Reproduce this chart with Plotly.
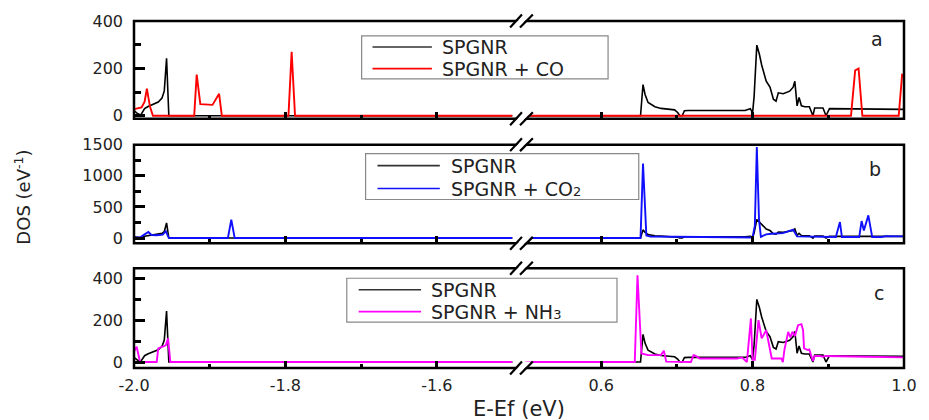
import plotly.graph_objects as go

# ---------------- data (energy in eV, DOS in 1/eV) ----------------
energy_spgnr = [-2.000, -1.995, -1.991, -1.986, -1.982, -1.975, -1.968, -1.963, -1.960,
                -1.957, -1.954, -1.500,
                0.500, 0.652, 0.6553, 0.658, 0.662, 0.667, 0.671, 0.679, 0.690, 0.697,
                0.701, 0.704, 0.707, 0.710, 0.715, 0.790, 0.797, 0.800, 0.802, 0.8056,
                0.809, 0.812, 0.818, 0.823, 0.8275, 0.831, 0.834, 0.8405, 0.849, 0.8536,
                0.8558, 0.8588, 0.8614, 0.8645, 0.869, 0.875, 0.8797, 0.882, 0.893,
                0.897, 0.9016, 0.950, 1.000]
dos_spgnr = [22, 8, 3, 30, 38, 48, 58, 75, 105,
             243, 0, 0,
             0, 0, 132, 90, 56, 45, 38, 31, 27, 25,
             14, 0, 0, 21, 22, 22, 30, 12, 80, 299,
             260, 215, 146, 121, 70, 62, 97, 93, 104, 121,
             146, 42, 77, 42, 38, 38, 0, 33, 33,
             0, 30, 28, 27]

energy_co = [-2.000, -1.990, -1.986, -1.983, -1.979, -1.975, -1.9205, -1.9172, -1.9124,
             -1.8963, -1.8876, -1.884, -1.796, -1.7918, -1.7873, -1.500,
             0.500, 0.930, 0.9355, 0.940, 0.945, 0.993, 0.9975, 1.000]
dos_co = [28, 35, 60, 115, 40, 0, 0, 174, 49,
          46, 93, 0, 0, 271, 0, 0,
          0, 0, 192, 200, 0, 0, 174, 170]

energy_co2 = [-2.000, -1.992, -1.986, -1.981, -1.977, -1.970, -1.962, -1.958, -1.954,
              -1.876, -1.8715, -1.867, -1.500,
              0.500, 0.652, 0.6553, 0.6597, 0.665, 0.700, 0.800, 0.803, 0.8056, 0.8085,
              0.811, 0.818, 0.825, 0.840, 0.8536, 0.8588, 0.910, 0.9154, 0.918, 0.9408,
              0.944, 0.947, 0.9529, 0.958, 0.970, 0.975, 1.000]
dos_co2 = [8, 10, 60, 97, 50, 45, 55, 110, 0,
           0, 295, 0, 0,
           0, 0, 1197, 40, 25, 20, 10, 200, 1465, 300,
           20, 59, 70, 80, 134, 27, 16, 258, 16, 16,
           274, 123, 365, 16, 16, 30, 27]

energy_nh3 = [-2.000, -1.9965, -1.992, -1.970, -1.968, -1.962, -1.958, -1.955, -1.952, -1.500,
              0.500, 0.6444, 0.648, 0.6532, 0.662, 0.679, 0.6828, 0.686, 0.7186, 0.722,
              0.725, 0.730, 0.7795, 0.786, 0.7925, 0.7978, 0.800, 0.803, 0.8078, 0.812,
              0.818, 0.8215, 0.8253, 0.838, 0.840, 0.842, 0.847, 0.850, 0.8526, 0.856,
              0.8601, 0.8645, 0.8667, 0.868, 0.873, 0.8749, 0.8797, 0.882, 0.8885, 0.893,
              0.8967, 0.950, 1.000]
dos_nh3 = [50, 73, 0, 0, 65, 73, 80, 113, 0, 0,
           0, 0, 414, 41, 33, 33, 54, 2, 0, 33,
           29, 17, 17, 22, 0, 208, 10, 10, 200, 113,
           152, 89, 17, 17, 0, 57, 144, 117, 144, 124,
           176, 181, 152, 65, 57, 60, 5, 29, 29, 25,
           29, 25, 22]

left_tick_vals = [-2.0, -1.8, -1.6]
left_tick_text = ["-2.0", "-1.8", "-1.6"]
right_tick_vals = [0.6, 0.8, 1.0]
right_tick_text = ["0.6", "0.8", "1.0"]

panel_letters = ["a", "b", "c"]
SMALL = '<span style="font-size:13px">{}</span>'
adsorbate_names = ["SPGNR + CO",
                   "SPGNR + CO" + SMALL.format("2"),
                   "SPGNR + NH" + SMALL.format("3")]
adsorbate_colors = ["#ff0000", "#1010ff", "#ff00ff"]
y_ranges = [[-12.6, 401], [-85, 1502], [-28.6, 447.6]]
y_dticks = [200, 500, 200]
y_minor = [100, 250, 100]

LEFT_RANGE = [-2.0, -1.5]
RIGHT_RANGE = [0.5, 1.0]

# ---------------- layout geometry (pixels) ----------------
W, H = 929, 420
ML, MR, MT, MB = 134, 17, 20, 52
PW = W - ML - MR
PH = H - MT - MB


def px_x(p):
    return (p - ML) / PW


def px_y(p):
    return (H - MB - p) / PH


panel_px = [(20, 118), (144, 243), (268, 368)]  # (top, bottom)
gap_left_px, gap_right_px = 516.5, 529.5
break_center_px = 523.0

FONT = "DejaVu Sans"
TXT = "#222222"


def split(energy, dos):
    left = [(e, d) for e, d in zip(energy, dos) if e <= LEFT_RANGE[1]]
    right = [(e, d) for e, d in zip(energy, dos) if e >= RIGHT_RANGE[0]]
    return left, right


fig = go.Figure()

series = [(energy_co, dos_co), (energy_co2, dos_co2), (energy_nh3, dos_nh3)]

for i in range(3):
    xl = "x" if i == 0 else f"x{2 * i + 1}"
    xr = f"x{2 * i + 2}"
    yy = "y" if i == 0 else f"y{i + 1}"
    for (e, d), color, width in [((energy_spgnr, dos_spgnr), "#000000", 1.6),
                                 (series[i], adsorbate_colors[i], 1.9)]:
        left, right = split(e, d)
        for pts, xa in [(left, xl), (right, xr)]:
            fig.add_trace(go.Scatter(
                x=[p[0] for p in pts], y=[p[1] for p in pts],
                mode="lines", line=dict(color=color, width=width),
                xaxis=xa, yaxis=yy, showlegend=False, hoverinfo="skip"))

layout = dict(
    width=W, height=H,
    margin=dict(l=ML, r=MR, t=MT, b=MB),
    paper_bgcolor="white", plot_bgcolor="white",
    showlegend=False,
    font=dict(family=FONT, color=TXT, size=16),
)

axis_common = dict(showgrid=False, zeroline=False, showline=False)

for i in range(3):
    top, bot = panel_px[i]
    ydom = [px_y(bot), px_y(top)]
    xl_name = "xaxis" if i == 0 else f"xaxis{2 * i + 1}"
    xr_name = f"xaxis{2 * i + 2}"
    y_name = "yaxis" if i == 0 else f"yaxis{i + 1}"
    y_ref = "y" if i == 0 else f"y{i + 1}"
    xl_ref = "x" if i == 0 else f"x{2 * i + 1}"
    last = i == 2
    layout[xl_name] = dict(
        axis_common, domain=[0, px_x(gap_left_px)], range=LEFT_RANGE, anchor=y_ref,
        tickmode="array", tickvals=left_tick_vals, ticktext=left_tick_text,
        ticks="inside", ticklen=7, tickwidth=2.5, tickcolor="black",
        minor=dict(ticks="inside", ticklen=4, tickwidth=2.5, tickcolor="black",
                   tickvals=[-1.9, -1.7]),
        showticklabels=last, ticklabelstandoff=6,
        tickfont=dict(family=FONT, size=16, color=TXT))
    layout[xr_name] = dict(
        axis_common, domain=[px_x(gap_right_px), 1], range=RIGHT_RANGE, anchor=y_ref,
        tickmode="array", tickvals=right_tick_vals, ticktext=right_tick_text,
        ticks="inside", ticklen=7, tickwidth=2.5, tickcolor="black",
        minor=dict(ticks="inside", ticklen=4, tickwidth=2.5, tickcolor="black",
                   tickvals=[0.7, 0.9]),
        showticklabels=last, ticklabelstandoff=6,
        tickfont=dict(family=FONT, size=16, color=TXT))
    layout[y_name] = dict(
        axis_common, domain=ydom, range=y_ranges[i], anchor=xl_ref,
        dtick=y_dticks[i], tick0=0,
        ticks="inside", ticklen=11, tickwidth=2.5, tickcolor="black",
        minor=dict(ticks="inside", ticklen=7, tickwidth=2.5, tickcolor="black",
                   dtick=y_minor[i], tick0=0),
        ticklabelstandoff=10,
        tickfont=dict(family=FONT, size=16, color=TXT))

fig.update_layout(**layout)

shapes = []
annotations = []

# panel frames and axis-break marks
for i in range(3):
    top, bot = panel_px[i]
    shapes.append(dict(type="rect", xref="paper", yref="paper",
                       x0=0, x1=1, y0=px_y(bot), y1=px_y(top),
                       line=dict(color="black", width=2.5), fillcolor="rgba(0,0,0,0)",
                       layer="above"))
    for edge in (top, bot):
        h = 6.5
        s1 = (break_center_px - 9, break_center_px + 3)   # (bottom x, top x) of first slash
        s2 = (break_center_px + 1, break_center_px + 14)
        # white band between the slashes hides the axis line
        path = (f"M {px_x(s1[0] + 1.5)},{px_y(edge + h)} "
                f"L {px_x(s1[1] + 1.5)},{px_y(edge - h)} "
                f"L {px_x(s2[1] - 1.5)},{px_y(edge - h)} "
                f"L {px_x(s2[0] - 1.5)},{px_y(edge + h)} Z")
        shapes.append(dict(type="path", xref="paper", yref="paper", path=path,
                           fillcolor="white", line=dict(width=0), layer="above"))
        for s in (s1, s2):
            shapes.append(dict(type="line", xref="paper", yref="paper",
                               x0=px_x(s[0]), y0=px_y(edge + h),
                               x1=px_x(s[1]), y1=px_y(edge - h),
                               line=dict(color="black", width=2.2), layer="above"))

# legends: (box x0, x1, y0, y1, line x0, x1, text x, entry y1, entry y2)
legend_px = [(364, 613, 35, 78, 375, 435, 443, 46.0, 67.8),
             (368, 644, 153, 199, 380, 443, 452, 165.0, 188.0),
             (349, 622, 278, 322, 361, 424, 432, 289.5, 311.5)]
for i, (bx0, bx1, by0, by1, lx0, lx1, tx, ey1, ey2) in enumerate(legend_px):
    shapes.append(dict(type="rect", xref="paper", yref="paper",
                       x0=px_x(bx0), x1=px_x(bx1), y0=px_y(by1), y1=px_y(by0),
                       line=dict(color="#888888", width=1.2), fillcolor="white",
                       layer="above"))
    for ey, color, label in [(ey1, "#333333", "SPGNR"),
                             (ey2, adsorbate_colors[i], adsorbate_names[i])]:
        shapes.append(dict(type="line", xref="paper", yref="paper",
                           x0=px_x(lx0), x1=px_x(lx1), y0=px_y(ey), y1=px_y(ey),
                           line=dict(color=color, width=1.6), layer="above"))
        annotations.append(dict(xref="paper", yref="paper", x=px_x(tx), y=px_y(ey),
                                xanchor="left", yanchor="middle", showarrow=False,
                                text=label, font=dict(family=FONT, size=19, color=TXT)))

# panel letters
letter_px = [(885, 38), (883, 168), (887, 293)]
for (lx, ly), letter in zip(letter_px, panel_letters):
    annotations.append(dict(xref="paper", yref="paper", x=px_x(lx), y=px_y(ly),
                            xanchor="center", yanchor="middle", showarrow=False,
                            text=letter, font=dict(family=FONT, size=19, color=TXT)))

# axis titles
annotations.append(dict(xref="paper", yref="paper", x=px_x(523), y=px_y(409),
                        xanchor="center", yanchor="middle", showarrow=False,
                        text="E-Ef (eV)", font=dict(family=FONT, size=21, color=TXT)))
annotations.append(dict(xref="paper", yref="paper", x=px_x(22), y=px_y(197),
                        xanchor="center", yanchor="middle", showarrow=False,
                        textangle=-90, text="DOS (eV<sup>-1</sup>)",
                        font=dict(family=FONT, size=18, color=TXT)))

fig.update_layout(shapes=shapes, annotations=annotations)

fig.write_html("out.html")
